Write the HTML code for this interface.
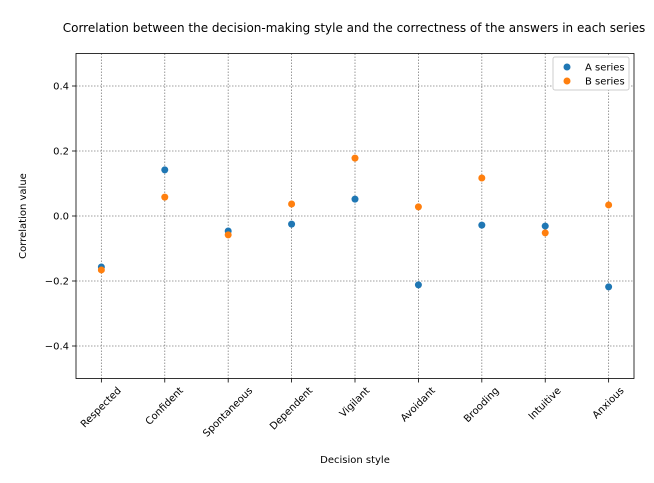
<!DOCTYPE html>
<html><head><meta charset="utf-8"><style>
body{margin:0;background:#fff;}
svg{display:block;font-family:"DejaVu Sans","Liberation Sans",sans-serif;}
</style></head><body>
<svg id="chart" width="654" height="483">
<text x="354" y="32" font-size="12" text-anchor="middle">Correlation between the decision-making style and the correctness of the answers in each series</text>
<g id="grid"></g><g id="axes"></g><g id="marks"></g>
<text x="355" y="463" font-size="10" text-anchor="middle">Decision style</text>
<text transform="translate(26,216) rotate(-90)" font-size="10" text-anchor="middle">Correlation value</text>
<g>
<rect x="553" y="57" width="76" height="33" fill="#fff" stroke="#ccc" rx="2"/>
<circle cx="567" cy="67" r="3.5" fill="#1f77b4"/>
<text x="585" y="70.5" font-size="10">A series</text>
<circle cx="567" cy="81" r="3.5" fill="#ff7f0e"/>
<text x="585" y="84.5" font-size="10">B series</text>
</g>
</svg>
<script>
const categories=["Respected","Confident","Spontaneous","Dependent","Vigilant","Avoidant","Brooding","Intuitive","Anxious"];
const seriesA=[-0.157,0.142,-0.046,-0.025,0.052,-0.212,-0.028,-0.031,-0.218];
const seriesB=[-0.166,0.058,-0.058,0.037,0.178,0.028,0.117,-0.052,0.034];
const yTicks=[-0.4,-0.2,0.0,0.2,0.4];
const yTickLabels=["\u22120.4","\u22120.2","0.0","0.2","0.4"];
const L=76,R=634,T=53.5,B=378.5;
const xs=i=>L+(i+0.4)/8.8*(R-L);
const ys=v=>T+(0.5-v)/1.0*(B-T);
const NS="http://www.w3.org/2000/svg";
function mk(t,a,p){const e=document.createElementNS(NS,t);for(const k in a)e.setAttribute(k,a[k]);p.appendChild(e);return e;}
const grid=document.getElementById('grid'),axes=document.getElementById('axes'),marks=document.getElementById('marks');
categories.forEach((c,i)=>{
 const x=xs(i);
 const g=mk('line',{x1:x,x2:x,y1:T,y2:B,stroke:'#808080','stroke-width':0.8,'stroke-dasharray':'1.5,1.5'},grid);
 
 
 const tk=mk('line',{x1:x,x2:x,y1:B,y2:B+4,stroke:'#000','stroke-width':0.8},axes);
 
 
 const t=mk('text',{x:0,y:0,'font-size':10,'text-anchor':'middle','dominant-baseline':'central'},axes);
 t.textContent=c;
 
 
 const w=t.getComputedTextLength();
 const cy=B+7+(w+11)*0.7071/2;
 t.setAttribute('transform',`translate(${x},${cy}) rotate(-45)`);
});
yTicks.forEach((v,i)=>{
 const y=ys(v);
 const g=mk('line',{x1:L,x2:R,y1:y,y2:y,stroke:'#808080','stroke-width':0.8,'stroke-dasharray':'1.5,1.5'},grid);
 
 
 const tk=mk('line',{x1:L-4,x2:L,y1:y,y2:y,stroke:'#000','stroke-width':0.8},axes);
 
 
 const t=mk('text',{x:L-7,y:y+3.5,'font-size':10,'text-anchor':'end'},axes);
 t.textContent=yTickLabels[i];
 
 
});
const frame=mk('rect',{x:L,y:T,width:R-L,height:B-T,fill:'none',stroke:'#000','stroke-width':0.8},axes);


seriesA.forEach((v,i)=>{
 const p=mk('circle',{cx:xs(i),cy:ys(v),r:3.5,fill:'#1f77b4'},marks);
 
 
});
seriesB.forEach((v,i)=>{
 const p=mk('circle',{cx:xs(i),cy:ys(v),r:3.5,fill:'#ff7f0e'},marks);
 
 
});
</script>
</body></html>
